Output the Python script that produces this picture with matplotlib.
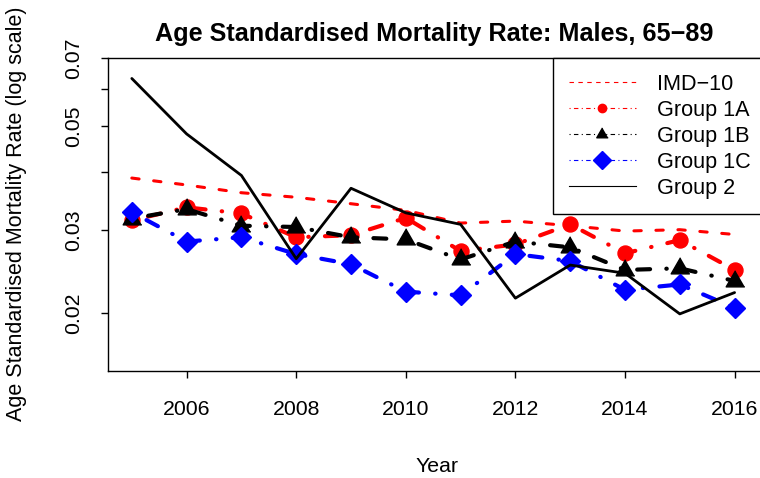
import matplotlib
matplotlib.use("Agg")
import matplotlib.pyplot as plt
from matplotlib.lines import Line2D
from matplotlib.ticker import FixedLocator, NullLocator

plt.rcParams['font.family'] = ['Liberation Sans', 'DejaVu Sans']

# Values
years = [2005, 2006, 2007, 2008, 2009, 2010, 2011, 2012, 2013, 2014, 2015, 2016]
imd10 = [0.0388, 0.0375, 0.0361, 0.0353, 0.0342, 0.0331, 0.0311, 0.0314, 0.0307, 0.0299, 0.0301, 0.0294]
group_1a = [0.0315, 0.0336, 0.0326, 0.0290, 0.0293, 0.0319, 0.0271, 0.0280, 0.0309, 0.0268, 0.0286, 0.0247]
group_1b = [0.0318, 0.0333, 0.0307, 0.0305, 0.0290, 0.0287, 0.0260, 0.0284, 0.0276, 0.0247, 0.0249, 0.0234]
group_1c = [0.0328, 0.0284, 0.0290, 0.0267, 0.0254, 0.0222, 0.0218, 0.0267, 0.0258, 0.0224, 0.0230, 0.0205]
group_2 = [0.0633, 0.0482, 0.0393, 0.0261, 0.0369, 0.0327, 0.0309, 0.0215, 0.0253, 0.0243, 0.0199, 0.0221]

labels = ['IMD\u221210', 'Group 1A', 'Group 1B', 'Group 1C', 'Group 2']
year_ticks = [2006, 2008, 2010, 2012, 2014, 2016]
y_ticks = [0.02, 0.03, 0.04, 0.05, 0.06, 0.07]
y_ticklabels = ['0.02', '0.03', '', '0.05', '', '0.07']

# R-like line patterns
dashed = (0, (2.4, 4.8))
dotdash = (0, (0.1, 3.9, 3.1, 3.9))
tri = [(0, 1), (-0.866, -0.5), (0.866, -0.5)]

fig = plt.figure(figsize=(7.6, 4.78), dpi=100)
ax = fig.add_axes([107.7 / 760, 1 - 371 / 478, 651 / 760, 313 / 478])

common = dict(dash_capstyle='round', solid_capstyle='round')
ax.plot(years, imd10, color='red', lw=2.2, ls=dashed, **common)
ax.plot(years, group_1a, color='red', lw=3, ls=dotdash, marker='o', ms=10.8, **common)
ax.plot(years, group_1b, color='black', lw=3, ls=dotdash, marker=tri, ms=15.5, **common)
ax.plot(years, group_1c, color='blue', lw=3, ls=dotdash, marker='D', ms=10, **common)
ax.plot(years, group_2, color='black', lw=2, ls='-', **common)

ax.set_yscale('log')
ax.set_xlim(2004.56, 2016.44)
ax.set_ylim(0.01503, 0.07)
ax.xaxis.set_major_locator(FixedLocator(year_ticks))
ax.set_xticklabels([str(y) for y in year_ticks])
ax.yaxis.set_major_locator(FixedLocator(y_ticks))
ax.yaxis.set_minor_locator(NullLocator())
ax.set_yticklabels(y_ticklabels, rotation=90, va='center')
ax.tick_params(axis='both', direction='out', length=5, width=1, labelsize=15.3)
ax.tick_params(axis='x', pad=16)
ax.tick_params(axis='y', pad=13)

ax.spines['right'].set_visible(False)
for s in ['left', 'bottom', 'top']:
    ax.spines[s].set_linewidth(1)

# legend with thin lines like R's legend()
handles = [
    Line2D([], [], color='red', lw=0.8, ls=(0, (4, 4))),
    Line2D([], [], color='red', lw=0.8, ls=(0, (1, 3, 4, 3)), marker='o', ms=6),
    Line2D([], [], color='black', lw=0.8, ls=(0, (1, 3, 4, 3)), marker=tri, ms=9.5),
    Line2D([], [], color='blue', lw=0.8, ls=(0, (1, 3, 4, 3)), marker='D', ms=9),
    Line2D([], [], color='black', lw=0.8, ls='-'),
]
leg = ax.legend(handles, labels, loc='upper left', bbox_to_anchor=(0.684, 0, 0.32, 1.0),
                mode='expand', fontsize=15.6, frameon=True, fancybox=False, framealpha=1,
                edgecolor='black', borderaxespad=0, borderpad=0.72, handlelength=3.1,
                handletextpad=1.0, labelspacing=0.23)
leg.get_frame().set_linewidth(1)

fig.text(434 / 760, 1 - 40.7 / 478, 'Age Standardised Mortality Rate: Males, 65\u221289',
         ha='center', va='baseline', fontsize=18.2, fontweight='bold')
fig.text(437 / 760, 1 - 472 / 478, 'Year', ha='center', va='baseline', fontsize=15.3)
fig.text(17 / 760, 1 - 214 / 478, 'Age Standardised Mortality Rate (log scale)',
         ha='center', va='center', rotation=90, fontsize=15.5)

fig.savefig('out.png', dpi=100)
